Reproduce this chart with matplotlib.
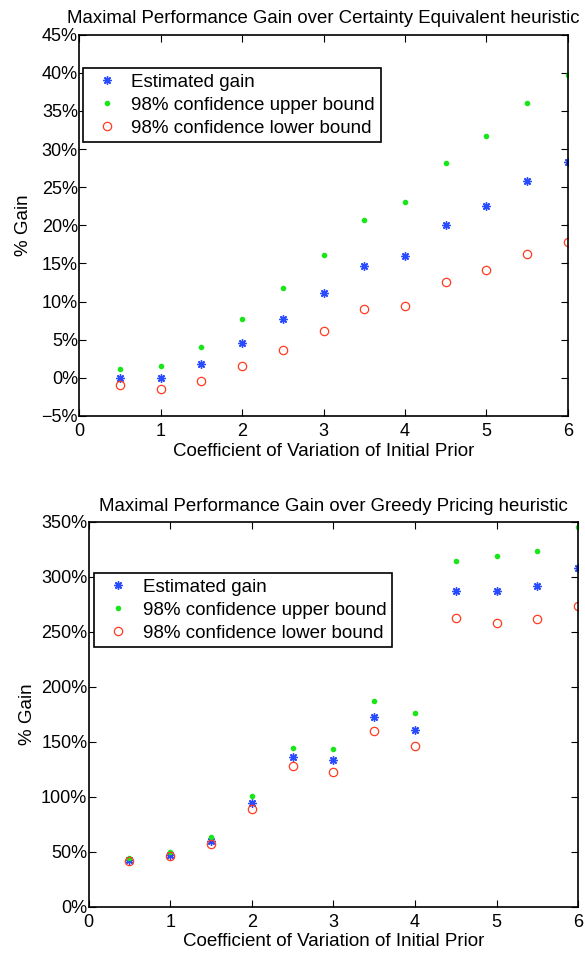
import numpy as np
from matplotlib import pyplot as plt

plt.rcParams['font.family'] = ['Liberation Sans', 'DejaVu Sans']

# coefficient of variation of the initial prior
cv = [0.5, 1.0, 1.5, 2.0, 2.5, 3.0, 3.5, 4.0, 4.5, 5.0, 5.5, 6.0]

# gain over certainty equivalent heuristic (%)
ce_est = [0.0, 0.0, 1.8, 4.6, 7.7, 11.1, 14.6, 16.0, 20.0, 22.5, 25.8, 28.3]
ce_upper = [1.2, 1.5, 4.1, 7.7, 11.8, 16.1, 20.7, 23.0, 28.2, 31.7, 36.0, 39.7]
ce_lower = [-1.0, -1.5, -0.4, 1.5, 3.7, 6.2, 9.0, 9.4, 12.6, 14.2, 16.3, 17.8]

# gain over greedy pricing heuristic (%)
gp_est = [42.4, 47.0, 60.0, 94.2, 136.0, 133.0, 172.7, 160.6, 287.6, 287.6, 291.8, 308.2]
gp_upper = [43.9, 50.0, 63.6, 100.3, 144.5, 143.3, 187.3, 176.0, 314.2, 319.4, 323.6, 345.2]
gp_lower = [41.2, 45.8, 57.0, 88.8, 127.9, 122.7, 159.7, 146.0, 263.0, 257.9, 261.8, 274.0]

x_ticks = [0, 1, 2, 3, 4, 5, 6]
ce_ticks = [-5, 0, 5, 10, 15, 20, 25, 30, 35, 40, 45]
gp_ticks = [0, 50, 100, 150, 200, 250, 300, 350]

labels = ['Estimated gain', '98% confidence upper bound', '98% confidence lower bound']
titles = ['Maximal Performance Gain over Certainty Equivalent heuristic',
          'Maximal Performance Gain over Greedy Pricing heuristic']


def pct(v):
    return ('\u2212%d%%' % -v) if v < 0 else ('%d%%' % v)


def draw(ax, est, upper, lower, yticks, title, leg_anchor, ylab_x):
    # matlab style asterisk: 8 arms
    ax.plot(cv, est, marker=(8, 2, 0), ls='none', color='#2a4cff', ms=6, mew=1.0,
            label=labels[0])
    ax.plot(cv, upper, '.', color='#19e619', ms=6, label=labels[1])
    ax.plot(cv, lower, 'o', mfc='none', mec='#ff3b1f', ms=6, mew=0.9, label=labels[2])

    ax.set_xlim(0, 6)
    ax.set_ylim(yticks[0], yticks[-1])
    ax.set_xticks(x_ticks)
    ax.set_yticks(yticks)
    ax.set_yticklabels([pct(v) for v in yticks])
    ax.tick_params(direction='in', length=5, width=0.8, top=True, right=True,
                   labelsize=13)
    ax.tick_params(axis='y', pad=1)
    ax.tick_params(axis='x', pad=5)
    for s in ax.spines.values():
        s.set_linewidth(1.2)

    ax.set_title(title, fontsize=13.4, pad=8)
    ax.set_xlabel('Coefficient of Variation of Initial Prior', fontsize=13.5, labelpad=2)
    ax.set_ylabel('% Gain', fontsize=13.5)
    ax.yaxis.set_label_coords(ylab_x, 0.5)

    leg = ax.legend(loc='upper left', bbox_to_anchor=leg_anchor, borderaxespad=0,
                    fontsize=13.5, frameon=True, fancybox=False, framealpha=1,
                    edgecolor='black', handlelength=2.0, handletextpad=0.3,
                    borderpad=0.3, labelspacing=0.32, numpoints=1)
    leg.get_frame().set_linewidth(1.2)


fig = plt.figure(figsize=(5.85, 9.56), dpi=100)
ax1 = fig.add_axes([0.1356, 0.5649, 0.835, 0.3989])
ax2 = fig.add_axes([0.1516, 0.0516, 0.8369, 0.4024])

draw(ax1, ce_est, ce_upper, ce_lower, ce_ticks, titles[0], (0.007, 0.913), -0.097)
draw(ax2, gp_est, gp_upper, gp_lower, gp_ticks, titles[1], (0.011, 0.868), -0.108)

fig.savefig('out.png', dpi=100)
